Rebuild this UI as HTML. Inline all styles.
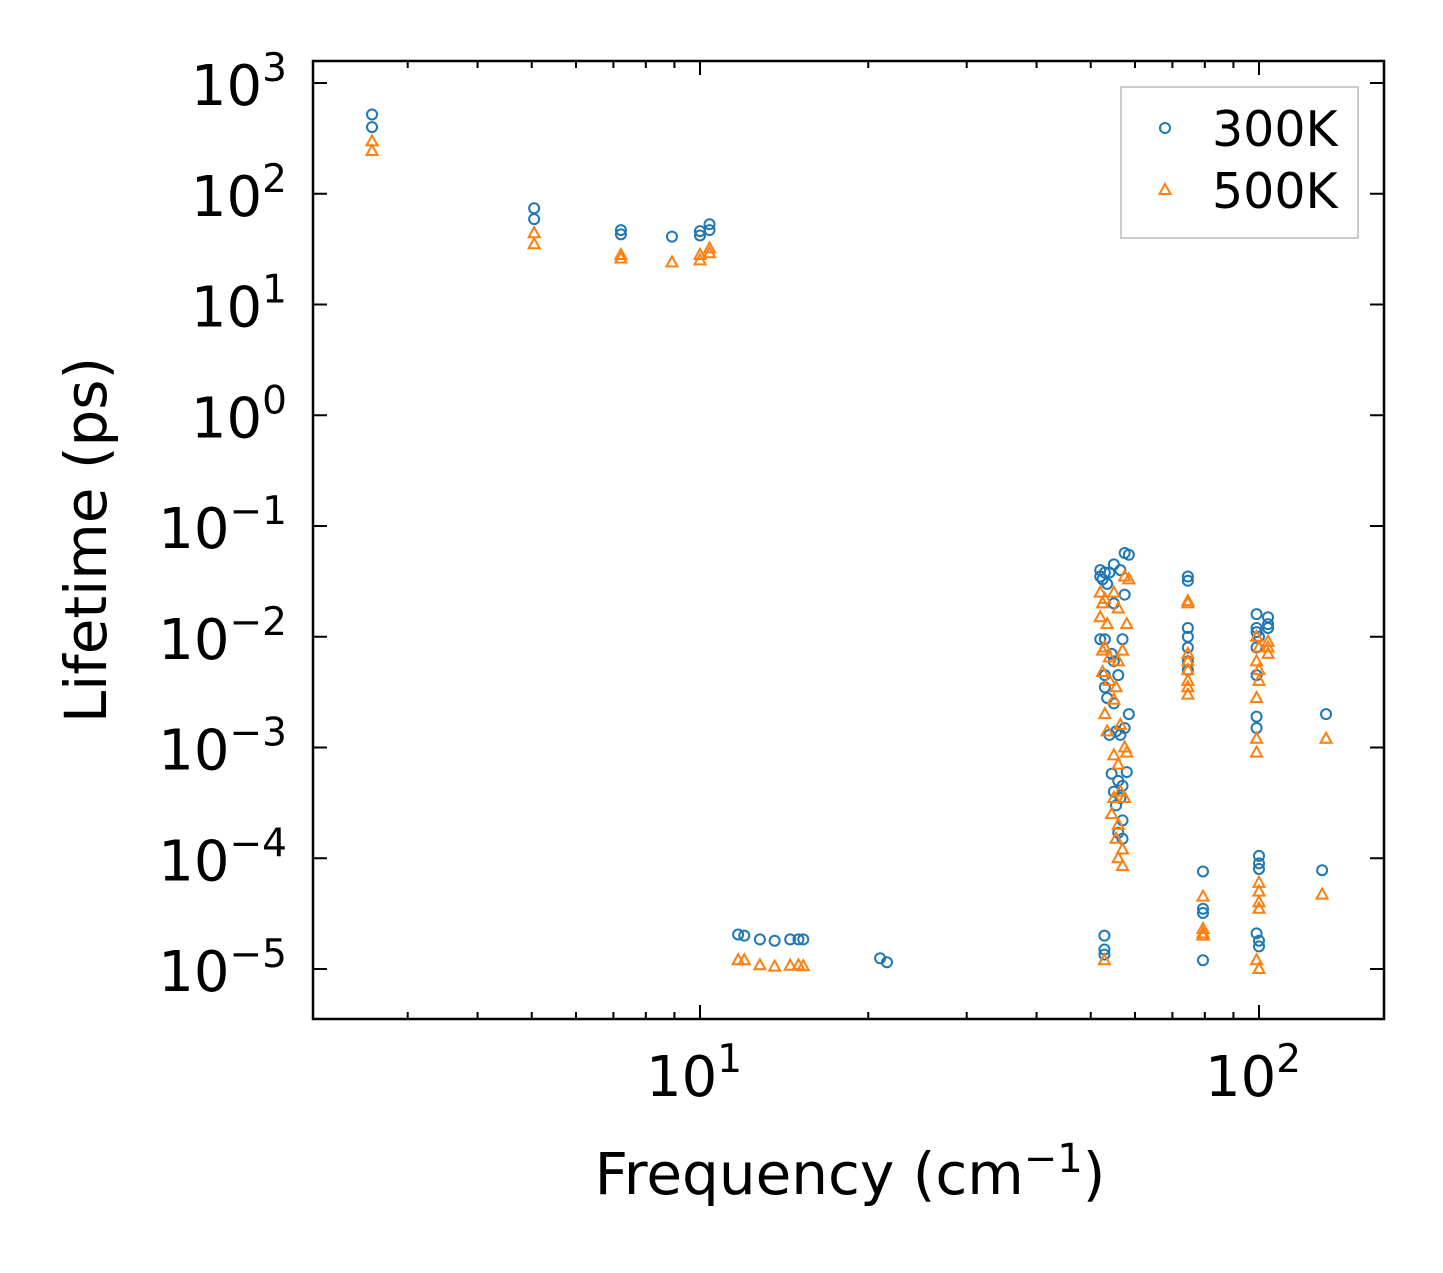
<!DOCTYPE html>
<html><head><meta charset="utf-8">
<style>
html,body{margin:0;padding:0;background:#fff;}
svg text{font-family:"DejaVu Sans","Liberation Sans",sans-serif;fill:#000;}
</style></head>
<body>
<svg id="chart" width="1443" height="1268" xmlns="http://www.w3.org/2000/svg">
<rect width="1443" height="1268" fill="#fff"/>
<g id="marks"></g>
<g id="axes"></g>
<rect x="313" y="61" width="1071" height="958" fill="none" stroke="#000" stroke-width="2.5"/>
<text transform="translate(106,540) rotate(-90)" text-anchor="middle" font-size="58">Lifetime (ps)</text>
<text x="850" y="1194" text-anchor="middle" font-size="58">Frequency (cm<tspan dy="-22" font-size="40">−1</tspan><tspan dy="22">)</tspan></text>
<g>
<rect x="1121" y="87" width="237" height="151" fill="#fff" stroke="#bbb" stroke-width="1.5"/>
<circle cx="1165" cy="128" r="5" fill="none" stroke="#1f77b4" stroke-width="2"/>
<text x="1212" y="146" font-size="49">300K</text>
<polygon points="1165,184 1170.5,194 1159.5,194" fill="none" stroke="#ff7f0e" stroke-width="2"/>
<text x="1212" y="208" font-size="49">500K</text>
</g>
</svg>
<script>
const series300 = [[2.59,520],[2.59,400],[5.05,74],[5.05,59],[7.22,47],[7.22,43],[8.91,41],[10,46],[10,42],[10.4,53],[10.4,47],
[11.7,2.05e-5],[12.0,2.0e-5],[12.8,1.85e-5],[13.6,1.8e-5],[14.5,1.85e-5],[15.0,1.85e-5],[15.3,1.85e-5],[21.0,1.25e-5],[21.6,1.15e-5],
[52,0.04],[52,0.035],[52.5,0.033],[53,0.038],[53.5,0.03],[54,0.038],[55,0.045],[56.5,0.04],[57.5,0.057],[58.5,0.055],[57.5,0.024],[55,0.02],[53,0.0095],[52,0.0095],[54.5,0.007],[57,0.0095],[55,0.006],[53,0.0045],[56,0.0045],[53,0.0035],[53.5,0.0028],[55,0.0025],[58.5,0.002],[57.5,0.0015],[55.5,0.0014],[54,0.0013],[56.5,0.0013],[58,0.0006],[54.5,0.00058],[56,0.0005],[57,0.00045],[55,0.0004],[56.5,0.00035],[55.5,0.0003],[57,0.00022],[56,0.00017],[57,0.00015],
[52.9,2.0e-5],[52.9,1.5e-5],[52.9,1.35e-5],
[74.6,0.035],[74.6,0.032],[74.6,0.012],[74.6,0.01],[74.6,0.008],[74.6,0.006],[74.6,0.005],
[79.4,7.6e-5],[79.4,3.5e-5],[79.4,3.2e-5],[79.4,1.2e-5],
[99,0.016],[99,0.012],[99,0.011],[100,0.01],[99,0.008],[99,0.0045],[99,0.0019],[99,0.0015],[100,1.05e-4],[100,9e-5],[100,8e-5],[99,2.1e-5],[100,1.8e-5],[100,1.6e-5],
[103.8,0.015],[103.8,0.013],[103.8,0.012],[131.8,0.002],[129.7,7.8e-5]];
const series500 = [[2.59,297],[2.59,243],[5.05,44],[5.05,35],[7.22,28],[7.22,26],[8.91,24],[10,28],[10,25],[10.4,32],[10.4,29],
[11.7,1.2e-5],[12.0,1.2e-5],[12.8,1.08e-5],[13.6,1.05e-5],[14.5,1.07e-5],[15.0,1.08e-5],[15.3,1.06e-5],
[52,0.025],[52.5,0.02],[53,0.022],[52,0.015],[53.5,0.013],[55,0.025],[56,0.018],[57.5,0.035],[58.5,0.033],[58,0.013],[53,0.008],[52.5,0.0075],[54,0.0065],[56,0.006],[57,0.0075],[52.5,0.0048],[54,0.004],[55.5,0.0035],[53,0.002],[55,0.0027],[56.5,0.0016],[53.5,0.0014],[57.5,0.001],[55,0.00085],[58,0.0009],[56,0.0007],[56.5,0.0004],[55,0.00035],[57.5,0.00035],[54.5,0.00025],[56,0.0002],[55.5,0.00015],[57,0.00012],[56,0.0001],[57,0.000085],
[52.9,1.2e-5],
[74.6,0.021],[74.6,0.02],[74.6,0.007],[74.6,0.006],[74.6,0.005],[74.6,0.004],[74.6,0.0035],[74.6,0.003],
[79.4,4.5e-5],[79.4,2.3e-5],[79.4,2.1e-5],[79.4,2.0e-5],
[99,0.01],[100,0.008],[99,0.006],[100,0.005],[100,0.004],[99,0.0028],[99,0.0012],[99,0.0009],[100,6e-5],[100,5e-5],[100,4e-5],[100,3.5e-5],[99,1.2e-5],[100,1.0e-5],
[103.8,0.009],[103.8,0.008],[103.8,0.007],[131.8,0.0012],[129.7,4.7e-5]];
const xTickVals = [10,100];
const xTickLabels = ["1","2"];
const yTickExps = [-5,-4,-3,-2,-1,0,1,2,3];

const NS="http://www.w3.org/2000/svg";
function xs(v){return 700+559*(Math.log10(v)-1);}
function ys(v){return 83+110.75*(3-Math.log10(v));}
function mk(tag,attrs,parent){const e=document.createElementNS(NS,tag);for(const k in attrs)e.setAttribute(k,attrs[k]);parent.appendChild(e);return e;}
const marks=document.getElementById('marks'), axes=document.getElementById('axes');
series300.forEach(p=>{
  const c=mk('circle',{cx:xs(p[0]),cy:ys(p[1]),r:5,fill:'none',stroke:'#1f77b4','stroke-width':2},marks);
  
  
});
series500.forEach(p=>{
  const x=xs(p[0]),y=ys(p[1]);
  const t=mk('polygon',{points:`${x},${y-6} ${x+5.5},${y+4} ${x-5.5},${y+4}`,fill:'none',stroke:'#ff7f0e','stroke-width':2},marks);
  
  
});
for(let d=1;d<=3;d++){for(let m=1;m<=9;m++){const v=m*Math.pow(10,d-1);const x=xs(v);if(x<313||x>1384)continue;
  const L=(m===1)?14:7;
  const a=mk('line',{x1:x,x2:x,y1:1019,y2:1019-L,stroke:'#000','stroke-width':2},axes);
  
  
  mk('line',{x1:x,x2:x,y1:61,y2:61+L,stroke:'#000','stroke-width':2},axes);
}}
xTickVals.forEach((v,i)=>{
  const t=mk('text',{x:xs(v)-6,y:1096,'text-anchor':'middle','font-size':56},axes);
  
  
  t.textContent='10';
  const s=mk('tspan',{dy:-24,'font-size':39},t);s.textContent=xTickLabels[i];
});
yTickExps.forEach(e=>{
  const y=ys(Math.pow(10,e));
  const a=mk('line',{x1:313,x2:327,y1:y,y2:y,stroke:'#000','stroke-width':2},axes);
  
  
  mk('line',{x1:1384,x2:1370,y1:y,y2:y,stroke:'#000','stroke-width':2},axes);
  const t=mk('text',{x:287,y:y+22,'text-anchor':'end','font-size':56},axes);
  
  
  t.textContent='10';
  const s=mk('tspan',{dy:-24,'font-size':39},t);s.textContent=(e<0?'−':'')+Math.abs(e);
});
</script>
</body></html>
